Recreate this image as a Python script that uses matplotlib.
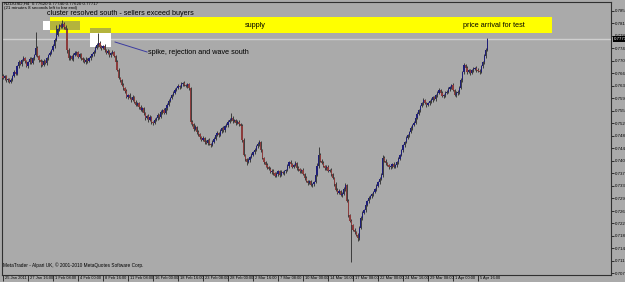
import numpy as np
import matplotlib
matplotlib.use('Agg')
import matplotlib.pyplot as plt
from matplotlib.patches import Rectangle
import matplotlib.transforms as mtransforms

plt.rcParams['font.family'] = ['Liberation Sans', 'DejaVu Sans']

# NZDUSD H4 closes (one per bar)
closes = [
    0.7655, 0.7660, 0.7648, 0.7652, 0.7643, 0.7650, 0.7662, 0.7673, 0.7668, 0.7690,
    0.7703, 0.7698, 0.7709, 0.7714, 0.7705, 0.7690, 0.7703, 0.7712, 0.7700, 0.7715,
    0.7723, 0.7745, 0.7720, 0.7708, 0.7703, 0.7695, 0.7706, 0.7700, 0.7714, 0.7722,
    0.7730, 0.7738, 0.7750, 0.7768, 0.7783, 0.7800, 0.7812, 0.7807, 0.7815, 0.7808,
    0.7798, 0.7738, 0.7714, 0.7720, 0.7712, 0.7723, 0.7728, 0.7732, 0.7718, 0.7725,
    0.7714, 0.7708, 0.7703, 0.7710, 0.7705, 0.7714, 0.7720, 0.7726, 0.7732, 0.7745,
    0.7753, 0.7760, 0.7748, 0.7744, 0.7750, 0.7738, 0.7730, 0.7735, 0.7723, 0.7728,
    0.7732, 0.7720, 0.7703, 0.7680, 0.7655, 0.7648, 0.7635, 0.7625, 0.7615, 0.7599,
    0.7605, 0.7596, 0.7590, 0.7598, 0.7585, 0.7575, 0.7580, 0.7568, 0.7560, 0.7565,
    0.7550, 0.7536, 0.7542, 0.7530, 0.7538, 0.7524, 0.7520, 0.7530, 0.7536, 0.7545,
    0.7540, 0.7554, 0.7560, 0.7552, 0.7566, 0.7575, 0.7588, 0.7596, 0.7605, 0.7612,
    0.7620, 0.7625, 0.7632, 0.7628, 0.7637, 0.7640, 0.7634, 0.7631, 0.7636, 0.7625,
    0.7524, 0.7518, 0.7505, 0.7510, 0.7495, 0.7488, 0.7480, 0.7471, 0.7478, 0.7465,
    0.7462, 0.7470, 0.7458, 0.7456, 0.7466, 0.7475, 0.7486, 0.7492, 0.7485, 0.7498,
    0.7507, 0.7500, 0.7512, 0.7516, 0.7525, 0.7530, 0.7536, 0.7528, 0.7530, 0.7521,
    0.7525, 0.7518, 0.7512, 0.7470, 0.7426, 0.7415, 0.7406, 0.7412, 0.7420, 0.7426,
    0.7435, 0.7442, 0.7453, 0.7458, 0.7465, 0.7440, 0.7418, 0.7405, 0.7397, 0.7390,
    0.7385, 0.7376, 0.7380, 0.7372, 0.7365, 0.7370, 0.7378, 0.7368, 0.7376, 0.7372,
    0.7378, 0.7382, 0.7395, 0.7406, 0.7400, 0.7392, 0.7397, 0.7402, 0.7388, 0.7385,
    0.7378, 0.7382, 0.7370, 0.7358, 0.7350, 0.7343, 0.7348, 0.7338, 0.7340, 0.7345,
    0.7367, 0.7395, 0.7426, 0.7410, 0.7403, 0.7395, 0.7388, 0.7392, 0.7380, 0.7382,
    0.7370, 0.7358, 0.7340, 0.7323, 0.7315, 0.7320, 0.7308, 0.7312, 0.7325, 0.7337,
    0.7290, 0.7248, 0.7230, 0.7218, 0.7205, 0.7198, 0.7190, 0.7180, 0.7210, 0.7239,
    0.7255, 0.7262, 0.7278, 0.7290, 0.7299, 0.7305, 0.7310, 0.7316, 0.7325, 0.7334,
    0.7345, 0.7356, 0.7367, 0.7418, 0.7410, 0.7402, 0.7397, 0.7390, 0.7394, 0.7400,
    0.7392, 0.7397, 0.7405, 0.7415, 0.7426, 0.7440, 0.7456, 0.7465, 0.7478, 0.7486,
    0.7495, 0.7507, 0.7515, 0.7522, 0.7536, 0.7548, 0.7560, 0.7572, 0.7580, 0.7590,
    0.7582, 0.7575, 0.7580, 0.7586, 0.7590, 0.7598, 0.7592, 0.7605, 0.7612, 0.7619,
    0.7610, 0.7602, 0.7605, 0.7610, 0.7614, 0.7622, 0.7628, 0.7634, 0.7620, 0.7605,
    0.7610, 0.7614, 0.7625, 0.7649, 0.7672, 0.7694, 0.7685, 0.7673, 0.7678, 0.7670,
    0.7679, 0.7682, 0.7685, 0.7680, 0.7676, 0.7673, 0.7690, 0.7703, 0.7720, 0.7738, 0.77717,
]
first_open = 0.7662

# upper / lower shadow length of each bar, in pips
wick_up = [
    4, 3, 5, 2, 4, 6, 3, 5, 4, 3,   5, 4, 3, 6, 4, 5, 3, 4, 6, 3,
    4, 47, 5, 3, 4, 6, 5, 4, 3, 5,  4, 3, 5, 6, 29, 5, 4, 6, 12, 5,
    4, 6, 5, 3, 4, 5, 6, 3, 4, 5,   4, 3, 5, 6, 4, 3, 5, 4, 6, 5,
    6, 29, 4, 5, 3, 6, 4, 5, 3, 4,  5, 4, 3, 6, 4, 3, 5, 4, 3, 6,
    4, 5, 3, 6, 4, 5, 3, 4, 6, 3,   5, 4, 3, 5, 6, 4, 3, 5, 4, 6,
    4, 5, 3, 6, 4, 5, 6, 3, 4, 5,   6, 4, 5, 3, 6, 4, 5, 3, 4, 5,
    4, 5, 3, 6, 4, 5, 3, 4, 5, 3,   5, 4, 6, 3, 4, 5, 3, 6, 4, 5,
    4, 5, 3, 6, 4, 6, 15, 5, 3, 4,  5, 4, 3, 5, 6, 4, 3, 5, 4, 6,
    4, 5, 3, 6, 6, 4, 5, 3, 4, 5,   3, 5, 4, 6, 3, 5, 4, 3, 5, 4,
    5, 4, 6, 3, 5, 4, 3, 6, 4, 5,   4, 3, 5, 4, 6, 3, 5, 4, 3, 5,
    6, 8, 24, 5, 4, 6, 3, 5, 4, 3,  5, 4, 3, 6, 4, 5, 3, 4, 6, 5,
    4, 5, 3, 6, 4, 5, 3, 4, 6, 5,   4, 3, 5, 4, 6, 3, 5, 4, 3, 5,
    4, 5, 6, 8, 4, 5, 3, 4, 6, 3,   5, 4, 3, 6, 4, 5, 3, 4, 5, 3,
    4, 5, 3, 6, 4, 5, 3, 4, 5, 6,   4, 3, 5, 4, 6, 3, 5, 4, 3, 5,
    4, 5, 3, 6, 4, 5, 3, 4, 5, 3,   5, 4, 6, 5, 4, 6, 3, 5, 4, 3,
    4, 5, 3, 6, 4, 5, 3, 4, 5, 6, 3,
]
wick_dn = [
    3, 5, 4, 6, 3, 4, 5, 3, 4, 5,   4, 3, 6, 4, 5, 3, 4, 6, 3, 4,
    5, 3, 4, 6, 15, 4, 5, 3, 6, 4,  3, 5, 4, 6, 3, 4, 5, 3, 4, 6,
    5, 8, 4, 5, 3, 6, 4, 5, 3, 4,   4, 6, 3, 5, 4, 3, 6, 4, 5, 3,
    4, 5, 3, 6, 4, 5, 3, 4, 6, 5,   3, 4, 6, 5, 3, 4, 5, 6, 4, 3,
    5, 4, 6, 3, 5, 4, 3, 6, 4, 5,   4, 6, 3, 5, 4, 6, 5, 3, 4, 5,
    6, 4, 5, 3, 4, 6, 3, 5, 4, 3,   4, 5, 3, 6, 4, 5, 3, 4, 5, 6,
    5, 4, 6, 3, 5, 4, 6, 3, 4, 5,   4, 5, 3, 6, 4, 5, 3, 4, 6, 3,
    5, 4, 6, 3, 5, 4, 3, 6, 4, 5,   4, 5, 3, 6, 4, 5, 8, 4, 5, 3,
    4, 5, 3, 6, 4, 5, 3, 4, 6, 5,   3, 4, 6, 5, 3, 4, 5, 6, 4, 3,
    5, 4, 3, 6, 4, 5, 3, 4, 5, 6,   4, 5, 3, 6, 4, 5, 3, 4, 6, 5,
    3, 4, 6, 5, 3, 4, 5, 6, 4, 3,   5, 4, 6, 3, 5, 4, 3, 6, 4, 5,
    4, 5, 3, 109, 4, 5, 3, 10, 5, 4, 6, 3, 5, 4, 6, 3, 5, 4, 3, 5,
    4, 5, 3, 6, 4, 5, 3, 4, 6, 5,   3, 4, 6, 5, 3, 4, 5, 6, 4, 3,
    5, 4, 6, 3, 5, 4, 3, 6, 4, 5,   4, 5, 3, 6, 4, 5, 3, 4, 6, 5,
    3, 4, 6, 5, 3, 4, 5, 6, 4, 3,   5, 4, 6, 3, 5, 4, 3, 6, 4, 5,
    4, 5, 3, 6, 4, 5, 3, 4, 6, 5, 3,
]

date_labels = ['25 Jan 2011', '27 Jan 16:00', '1 Feb 08:00', '4 Feb 00:00', '8 Feb 16:00',
               '11 Feb 08:00', '16 Feb 00:00', '18 Feb 16:00', '23 Feb 08:00', '28 Feb 00:00',
               '2 Mar 16:00', '7 Mar 08:00', '10 Mar 00:00', '14 Mar 16:00', '17 Mar 08:00',
               '22 Mar 00:00', '24 Mar 16:00', '29 Mar 08:00', '1 Apr 00:00', '5 Apr 16:00']
price_ticks = [0.70750, 0.71120, 0.71490, 0.71860, 0.72230, 0.72600, 0.72980, 0.73350,
               0.73720, 0.74090, 0.74460, 0.74830, 0.75200, 0.75580, 0.75950, 0.76320,
               0.76690, 0.77060, 0.77430, 0.77800, 0.78180, 0.78550]

pip = 0.0001
c = np.array(closes)
o = np.r_[first_open, c[:-1]]   # forex H4 bars open at the previous close
hi = np.maximum(o, c) + np.array(wick_up) * pip
lo = np.minimum(o, c) - np.array(wick_dn) * pip
x = np.arange(len(c))

bg = '#aaaaaa'
fig = plt.figure(figsize=(6.25, 2.82), dpi=100, facecolor=bg)
ax = fig.add_axes([2/625, 7/282, 609/625, 273/282], facecolor=bg)
ax.set_xlim(-0.64, 389.1)
ax.set_ylim(0.70700, 0.78808)

# drawn zones
ax.add_patch(Rectangle((30.1, 0.77887), 321.3, 0.00475, color='#ffff00', lw=0, zorder=1))
ax.add_patch(Rectangle((30.1, 0.77976), 19.2, 0.00267, color='#b4b43c', lw=0, zorder=1.5))
ax.add_patch(Rectangle((25.6, 0.77976), 4.5, 0.00267, color='white', lw=0, zorder=1.5))
ax.add_patch(Rectangle((55.7, 0.77887), 13.4, 0.00148, color='#b4b43c', lw=0, zorder=1.5))
ax.add_patch(Rectangle((55.7, 0.77471), 13.4, 0.00416, color='white', lw=0, zorder=1.5))

# current price line
ax.axhline(c[-1], color='#cfcfcf', lw=1, zorder=1.2)

# candles
up = c >= o
ax.vlines(x, lo, hi, color='#3c3c3c', lw=0.7, zorder=2)
body = np.maximum(np.abs(c - o), 0.00006)
ax.bar(x[up], body[up], bottom=np.minimum(o, c)[up], width=0.8, color='#1e1e78', lw=0, zorder=3)
ax.bar(x[~up], body[~up], bottom=np.minimum(o, c)[~up], width=0.8, color='#8c3c3c', lw=0, zorder=3)

# annotations
ax.plot([71.7, 92.2], [0.77620, 0.77323], color='#3c3ca0', lw=0.7, zorder=4)
ax.text(28.2, 0.78481, 'cluster resolved south - sellers exceed buyers', fontsize=5.2,
        va='center', ha='left', zorder=5)
ax.text(154.9, 0.78124, 'supply', fontsize=5.2, va='center', ha='left', zorder=5)
ax.text(294.4, 0.78124, 'price arrival for test', fontsize=5.2, va='center', ha='left', zorder=5)
ax.text(92.8, 0.77323, 'spike, rejection and wave south', fontsize=5.2, va='center',
        ha='left', zorder=5)

# axes styling
for s in ax.spines.values():
    s.set_color('#303030')
    s.set_linewidth(0.8)
ax.yaxis.tick_right()
ax.set_yticks(price_ticks)
ax.set_yticklabels(['%.5f' % p for p in price_ticks])
ax.tick_params(axis='y', length=2, width=0.5, pad=1, labelsize=3.2, colors='black')
ax.set_xticks(x[::16])
ax.set_xticklabels(date_labels, ha='left')
ax.tick_params(axis='x', length=4, width=0.5, pad=-3.4, labelsize=2.9, colors='black')
offset = mtransforms.ScaledTranslation(1.5/100, 0, fig.dpi_scale_trans)
for lab in ax.get_xticklabels():
    lab.set_transform(lab.get_transform() + offset)

trans = mtransforms.blended_transform_factory(ax.transAxes, ax.transData)
ax.text(1.004, c[-1], '%.5f' % c[-1], transform=trans, fontsize=3.2, color='white',
        va='center', ha='left', bbox=dict(facecolor='black', edgecolor='none', pad=0.6),
        zorder=6, clip_on=False)

fig.text(4/625, 1 - 2/282, 'NZDUSD,H4  0.77620 0.77740 0.77620 0.77717', fontsize=3.2, va='top')
fig.text(4/625, 1 - 6.5/282, '(21 minutes 8 seconds left to bar end)', fontsize=3.2, va='top')
ax.text(0.002, 0.025, 'MetaTrader - Alpari UK, \u00a9 2001-2010 MetaQuotes Software Corp.',
        transform=ax.transAxes, fontsize=3.4, va='bottom', ha='left')

fig.savefig('out.png', dpi=100, facecolor=bg)
